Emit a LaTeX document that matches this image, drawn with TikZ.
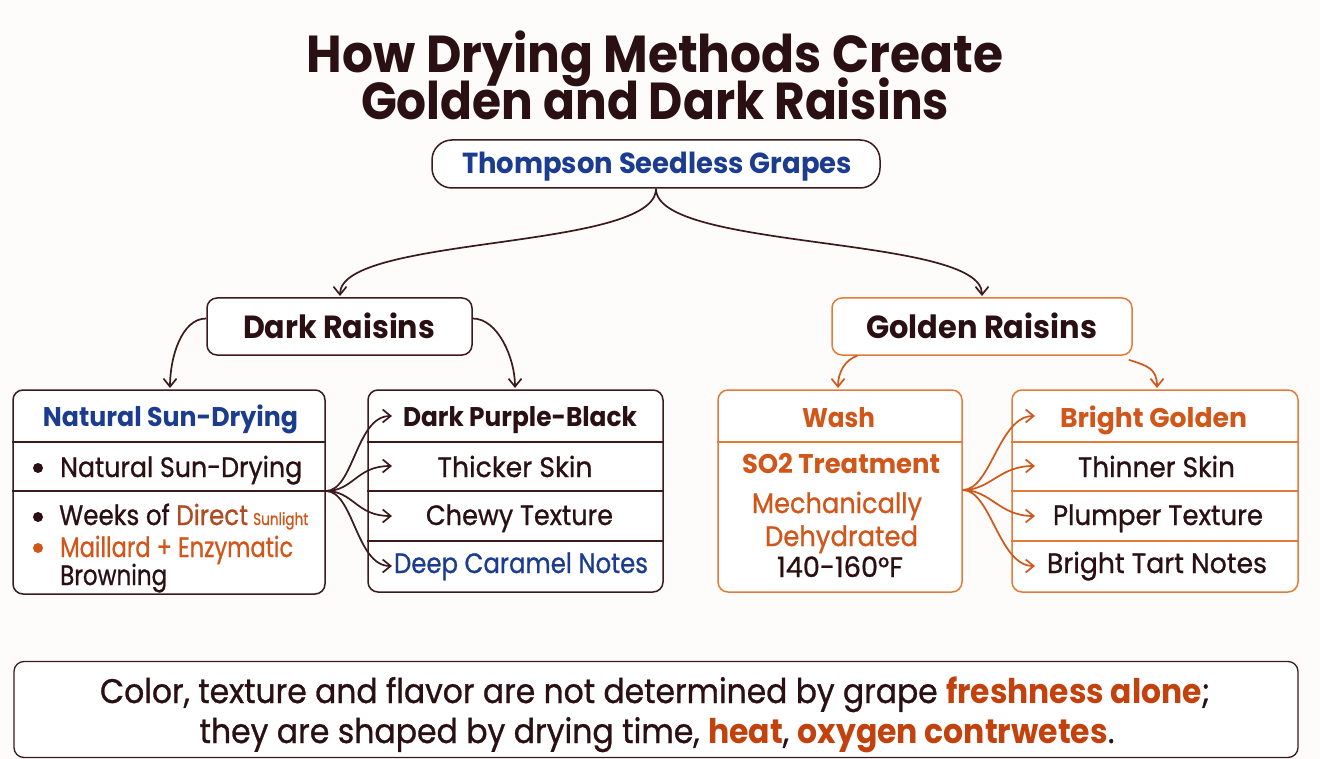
\documentclass[tikz,border=0pt]{standalone}
\usepackage{fontspec}
\usepackage{graphicx}
\setmainfont{Poppins}[UprightFeatures={FakeBold=0.9}]
\usetikzlibrary{arrows.meta}
\definecolor{ink}{HTML}{2A1012}
\definecolor{edge}{HTML}{3B1A1C}
\definecolor{navy}{HTML}{1B3C8F}
\definecolor{otext}{HTML}{D0561A}
\definecolor{oline}{HTML}{E07B39}
\definecolor{hilite}{HTML}{C2410C}
\definecolor{brn}{HTML}{B04A22}
\definecolor{bgc}{HTML}{FDFCFA}
\newcommand\fitw[2]{\resizebox{#1pt}{\height}{#2}}
\newcommand\fsz[1]{\fontsize{#1}{#1}\selectfont}
\begin{document}
\begin{tikzpicture}[x=1pt,y=-1pt,
  t/.style={anchor=base, inner sep=0pt, text=ink},
  card/.style={draw=edge, line width=1.5pt, rounded corners=10pt, fill=white, inner sep=0pt},
  ocard/.style={card, draw=oline},
  div/.style={draw=edge, line width=1.4pt},
  odiv/.style={draw=oline, line width=1.4pt},
  arr/.style={draw=edge, line width=1.7pt, -{Straight Barb[length=8pt,width=13pt]}},
  oarr/.style={arr, draw=otext},
  body/.style={t, font=\fsz{28}},
  bul/.style={circle, fill=ink, inner sep=0pt, minimum size=10pt},
  head/.style={t, font=\fsz{27}\bfseries},
]
\useasboundingbox (0,0) rectangle (1320,759);
\fill[bgc] (0,0) rectangle (1320,759);

% title
\node[t, anchor=north, align=center, font=\fsz{52}\bfseries]
  (title) at (655,31) {\fitw{696}{How Drying Methods Create}\\[-10pt]\fitw{588}{Golden and Dark Raisins}};

% root
\node[card, rounded corners=20pt, minimum width=448pt, minimum height=48pt] (root) at (656,164) {};
\node[t, font=\fsz{29}\bfseries, text=navy] (rootT) at (657,174) {\fitw{390}{Thompson Seedless Grapes}};

% level 2
\node[card, minimum width=265pt, minimum height=57pt] (dark) at (339.5,326.5) {};
\node[t, font=\fsz{32}\bfseries] (darkT) at (339,338) {\fitw{192}{Dark Raisins}};
\node[ocard, minimum width=300pt, minimum height=57pt] (gold) at (982,326.5) {};
\node[t, font=\fsz{32}\bfseries] (goldT) at (981.5,338) {\fitw{231}{Golden Raisins}};

% cards
\node[card, minimum width=312pt, minimum height=204pt] (nat) at (169,492) {};
\node[card, minimum width=295pt, minimum height=202pt] (mid) at (515.5,491) {};
\node[ocard, minimum width=244pt, minimum height=202pt] (wash) at (840,491) {};
\node[ocard, minimum width=286pt, minimum height=202pt] (right) at (1155,491) {};

% dividers
\draw[div] (nat.west |- 0,442) -- (nat.east |- 0,442);
\draw[div] (nat.west |- 0,491) -- (nat.east |- 0,491);
\draw[div] (mid.west |- 0,442) -- (mid.east |- 0,442);
\draw[div] (mid.west |- 0,491) -- (mid.east |- 0,491);
\draw[div] (mid.west |- 0,541) -- (mid.east |- 0,541);
\draw[odiv] (wash.west |- 0,442) -- (wash.east |- 0,442);
\draw[odiv] (right.west |- 0,442) -- (right.east |- 0,442);
\draw[odiv] (right.west |- 0,491) -- (right.east |- 0,491);
\draw[odiv] (right.west |- 0,541) -- (right.east |- 0,541);

% natural card text
\node[head, text=navy] (n0) at (170.5,426) {\fitw{255}{Natural Sun-Drying}};
\node[bul] (b1) at (38,468) {};
\node[body, anchor=base west] (n1) at (60,477) {\fitw{242}{Natural Sun-Drying}};
\node[bul] (b2) at (38,517) {};
\node[body, anchor=base west] (n2) at (59,525) {\fitw{189}{Weeks of \textcolor{brn}{Direct}}};
\node[t, anchor=base west, font=\fsz{17}, text=otext] (n2b) at (253,525) {\fitw{55}{Sunlight}};
\node[bul, fill=otext] (b3) at (38,548) {};
\node[body, anchor=base west, text=otext] (n3) at (60,557) {\fitw{233}{Maillard + Enzymatic}};
\node[body, anchor=base west] (n4) at (60,585) {\fitw{107}{Browning}};

% mid card text
\node[head] (m1) at (520,426) {\fitw{234}{Dark Purple-Black}};
\node[body] (m2) at (515,477) {\fitw{155}{Thicker Skin}};
\node[body] (m3) at (519.5,525) {\fitw{187}{Chewy Texture}};
\node[body, text=navy] (m4) at (521,573) {\fitw{254}{Deep Caramel Notes}};

% wash card text
\node[head, text=otext] (w1) at (838.5,427) {\fitw{73}{Wash}};
\node[head, text=otext] (w2) at (841,473) {\fitw{198}{SO2 Treatment}};
\node[body, text=otext] (w3) at (837,513) {\fitw{170}{Mechanically}};
\node[body, text=otext] (w4) at (841.5,546) {\fitw{153}{Dehydrated}};
\node[body] (w5) at (840,577) {\fitw{126}{140-160°F}};

% right card text
\node[head, text=otext] (r1) at (1153.5,427) {\fitw{187}{Bright Golden}};
\node[body] (r2) at (1156.5,477) {\fitw{157}{Thinner Skin}};
\node[body] (r3) at (1158,525) {\fitw{210}{Plumper Texture}};
\node[body] (r4) at (1157,573) {\fitw{220}{Bright Tart Notes}};

% bottom note
\node[card, draw=edge, line width=1.3pt, minimum width=1284pt, minimum height=96pt] (note) at (656,709.5) {};
\node[t, font=\fsz{34}] (note1) at (655,703) {\fitw{1110}{Color, texture and flavor are not determined by grape \textcolor{hilite}{\bfseries freshness alone};}};
\node[t, font=\fsz{34}] (note2) at (657,743) {\fitw{915}{they are shaped by drying time, \textcolor{hilite}{\bfseries heat}, \textcolor{hilite}{\bfseries oxygen contrwetes}.}};

% arrow target coordinates
\coordinate (ta) at (340,296);
\coordinate (tb) at (982,296);
\coordinate (tn) at (170,388);
\coordinate (tm) at (515,388);
\coordinate (tw) at (838,388);
\coordinate (tr) at (1157,388);
\coordinate (f1) at (392,416);
\coordinate (f2) at (392,466);
\coordinate (f3) at (392,516);
\coordinate (f4) at (392,566);
\coordinate (g1) at (1035,416);
\coordinate (g2) at (1035,466);
\coordinate (g3) at (1035,516);
\coordinate (g4) at (1035,566);

% connectors
\draw[arr] (root.south) .. controls +(0,62) and +(0,-61) .. (ta);
\draw[arr] (root.south) .. controls +(0,62) and +(0,-61) .. (tb);
\draw[arr] ([yshift=8pt]dark.west) .. controls +(-25,0) and +(0,-30) .. (tn);
\draw[arr] ([yshift=8pt]dark.east) .. controls +(25,0) and +(0,-30) .. (tm);
\draw[oarr] ([xshift=26pt]gold.south west) .. controls +(-12,4) and +(0,-16) .. (tw);
\draw[oarr] ([xshift=-4pt,yshift=-4pt]gold.south east) .. controls +(18,6) and +(0,-20) .. (tr);
\foreach \k in {f1,f2,f3,f4}
  \draw[arr] (nat.east |- 0,491) .. controls +(28,0) and +(-36,0) .. (\k);
\foreach \k in {g1,g2,g3,g4}
  \draw[oarr] (wash.east |- 0,490) .. controls +(28,0) and +(-36,0) .. (\k);
\end{tikzpicture}
\end{document}
